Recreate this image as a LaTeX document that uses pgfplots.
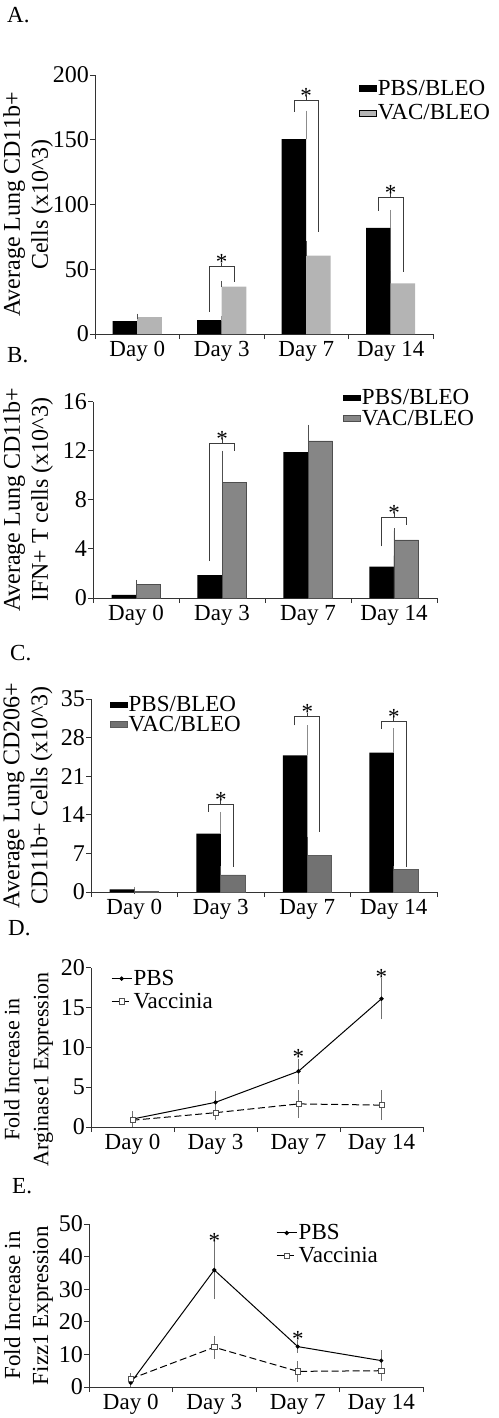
\documentclass[border=0pt]{standalone}
\usepackage{pgfplots}
\pgfplotsset{compat=1.18}
\usepackage{fontspec}
\setmainfont{Liberation Serif}
\definecolor{gA}{HTML}{B4B4B4}
\definecolor{gB}{HTML}{868686}
\definecolor{gBd}{HTML}{4E4E4E}
\definecolor{gC}{HTML}{727272}
\definecolor{errP}{HTML}{8C8C8C}
\definecolor{errV}{HTML}{505050}
\definecolor{brk}{HTML}{3C3C3C}
\newcommand{\fs}{\fontsize{23}{27}\selectfont}
\newcommand{\sig}[2]{\node[font=\fs, anchor=base, inner sep=0pt, yshift=-3pt] at (axis cs:#1,#2) {*};}
\newcommand{\sigc}[2]{\node[font=\fs, anchor=base, inner sep=0pt, yshift=-11.5pt] at (axis cs:#1,#2) {*};}
\newcommand{\ylab}[4]{\node[font=\fontsize{#4}{28}\selectfont, align=center, rotate=90, anchor=center] at ([xshift=#1]rel axis cs:0,0.5) {#2\\#3};}
\pgfplotsset{
  base/.style={
    scale only axis, anchor=south west, clip=false,
    axis lines=left,
    axis line style={-, line width=0.9pt, draw=black!80},
    tick style={line width=0.9pt, draw=black!80},
    tick align=outside, major tick length=5pt,
    ymin=0, xmin=-0.5, xmax=3.5,
    xtick={-0.5,0.5,1.5,2.5,3.5}, xticklabels={},
    extra x ticks={0,1,2,3},
    extra x tick labels={Day 0,Day 3,Day 7,Day 14},
    extra x tick style={major tick length=0pt},
    xticklabel style={yshift=-6pt},
    ticklabel style={font=\fs, inner sep=1pt},
    yticklabel style={font=\fontsize{24}{27}\selectfont},
    /pgf/number format/assume math mode=true,
    legend style={draw=none, fill=none, font=\fs, inner sep=0pt, legend cell align=left, nodes={inner xsep=1.5pt}},
  },
  barleg/.style={legend image code/.code={\fill[##1] (0pt,-2pt) rectangle (#1,{#1-2pt});}},
  lineleg/.style={legend image code/.code={\draw[mark repeat=2, mark phase=2, ##1] plot coordinates {(0pt,0pt) (10pt,0pt) (20pt,0pt)};}},
  bp/.style={ybar, bar width=24.5pt, bar shift=-12.25pt, fill=black, draw=none, area legend,
    error bars/y dir=plus, error bars/y explicit,
    error bars/error bar style={draw=errP, line width=0.8pt},
    error bars/error mark options={draw=errP, line width=0.8pt, mark size=2.5pt}},
  bv/.style={ybar, bar width=24.5pt, bar shift=12.25pt, area legend,
    error bars/y dir=plus, error bars/y explicit,
    error bars/error bar style={draw=errV, line width=0.8pt},
    error bars/error mark options={draw=errV, line width=0.8pt, mark size=2.5pt}},
  bk/.style={draw=brk, line width=0.9pt, forget plot, mark=none},
  lp/.style={black, line width=1pt, mark=*, mark size=1.6pt,
    error bars/y dir=both, error bars/y explicit,
    error bars/error bar style={draw=errP!80!black, line width=0.8pt},
    error bars/error mark options={draw=errP!80!black, line width=0.8pt, mark size=3pt}},
  lv/.style={black, line width=1pt, dash pattern=on 7pt off 3.5pt, mark=square*, mark size=2.6pt,
    mark options={solid, fill=white, draw=errV, line width=0.7pt},
    error bars/y dir=both, error bars/y explicit,
    error bars/error bar style={draw=errP!80!black, line width=0.8pt, solid},
    error bars/error mark options={draw=errP!80!black, line width=0.8pt, mark size=3pt, solid}},
}
\begin{document}
\begin{tikzpicture}
% ---------------- A ----------------
\node[font=\fs, anchor=base west, inner sep=0pt] at (7pt,-23pt) {A.};
\begin{axis}[base, at={(95pt,-334pt)}, width=338pt, height=259pt, ymax=200, ytick={0,50,100,150,200},
  barleg=13pt, legend style={at={(0.78,0.99)}, anchor=north west, row sep=4pt}]
\addplot[bp] table[x=x,y=y,y error=e]{
x y e
0 10 0.8
1 10.8 0.8
2 150.5 20
3 82 12
};
\addplot[bv, fill=gA, draw=none] table[x=x,y=y,y error=e]{
x y e
0 13 0.8
1 36.5 2.5
2 60.5 9.5
3 39 8
};
\legend{PBS/BLEO,VAC/BLEO}
\addplot[bk] coordinates {(0.855,17) (0.855,52) (1.145,52) (1.145,40.5)};
\addplot[bk] coordinates {(1,52) (1,55)};
\addplot[bk] coordinates {(1.855,171.5) (1.855,180.5) (2.145,180.5) (2.145,78.5)};
\addplot[bk] coordinates {(2,180.5) (2,183.5)};
\addplot[bk] coordinates {(2.855,95) (2.855,105.5) (3.145,105.5) (3.145,48)};
\addplot[bk] coordinates {(3,105.5) (3,108.5)};
\sig{1}{52}
\sig{2}{180.5}
\sig{3}{105.5}
\ylab{-67pt}{Average Lung CD11b+}{Cells (x10\textasciicircum 3)}{24}
\end{axis}
% ---------------- B ----------------
\node[font=\fs, anchor=base west, inner sep=0pt] at (7pt,-362pt) {B.};
\begin{axis}[base, at={(93pt,-598pt)}, width=344pt, height=196.3pt, ymax=16, ytick={0,4,8,12,16},
  barleg=11pt, legend style={at={(0.725,1.075)}, anchor=north west, row sep=0pt}]
\addplot[bp] table[x=x,y=y,y error=e]{
x y e
0 0.25 0.05
1 1.87 0.13
2 11.9 2.0
3 2.55 0.9
};
\addplot[bv, fill=gB, draw=gBd, line width=0.8pt] table[x=x,y=y,y error=e]{
x y e
0 1.14 0.14
1 9.4 2.4
2 12.8 1.1
3 4.73 0.76
};
\legend{PBS/BLEO,VAC/BLEO}
\addplot[bk] coordinates {(0.855,3.0) (0.855,12.6) (1.145,12.6) (1.145,12.0)};
\addplot[bk] coordinates {(1,12.6) (1,12.93)};
\addplot[bk] coordinates {(2.855,4.2) (2.855,6.6) (3.145,6.6) (3.145,5.95)};
\addplot[bk] coordinates {(3,6.6) (3,6.93)};
\sig{1}{12.6}
\sig{3}{6.6}
\ylab{-65pt}{Average Lung CD11b+}{IFN+ T cells (x10\textasciicircum 3)}{24}
\end{axis}
% ---------------- C ----------------
\node[font=\fs, anchor=base west, inner sep=0pt] at (10pt,-660pt) {C.};
\begin{axis}[base, at={(91pt,-892pt)}, width=346pt, height=193pt, ymax=35, ytick={0,7,14,21,28,35},
  barleg=10pt, legend style={at={(0.053,1.026)}, anchor=north west, row sep=-1pt}]
\addplot[bp] table[x=x,y=y,y error=e]{
x y e
0 0.48 0.05
1 10.6 3.5
2 24.8 5.0
3 25.3 3.9
};
\addplot[bv, fill=gC, draw=gC!80!black, line width=0.6pt] table[x=x,y=y,y error=e]{
x y e
0 0.15 0.03
1 3.1 1.2
2 6.6 2.95
3 4.1 0.2
};
\legend{PBS/BLEO,VAC/BLEO}
\addplot[bk] coordinates {(0.855,14.6) (0.855,15.9) (1.145,15.9) (1.145,4.6)};
\addplot[bk] coordinates {(1,15.9) (1,16.63)};
\addplot[bk] coordinates {(1.855,30.2) (1.855,31.8) (2.145,31.8) (2.145,10.9)};
\addplot[bk] coordinates {(2,31.8) (2,32.53)};
\addplot[bk] coordinates {(2.855,29.6) (2.855,31.0) (3.145,31.0) (3.145,4.6)};
\addplot[bk] coordinates {(3,31.0) (3,31.73)};
\sig{1}{15.9}
\sig{2}{31.8}
\sig{3}{31.0}
\ylab{-63pt}{Average Lung CD206+}{CD11b+ Cells (x10\textasciicircum 3)}{24}
\end{axis}
% ---------------- D ----------------
\node[font=\fs, anchor=base west, inner sep=0pt] at (8pt,-935pt) {D.};
\begin{axis}[base, at={(91pt,-1127pt)}, width=332pt, height=159.3pt, ymax=20, ytick={0,5,10,15,20},
  lineleg, legend style={at={(0.06,0.998)}, anchor=north west, row sep=2pt}]
\addplot[lp] table[x=x,y=y,y error=e]{
x y e
0 1.0 0.6
1 3.1 1.0
2 7.0 1.2
3 16.1 2.2
};
\addplot[lv] table[x=x,y=y,y error=e]{
x y e
0 0.85 0.5
1 1.8 0.5
2 2.9 1.4
3 2.75 1.5
};
\legend{PBS,Vaccinia}
\sigc{2}{9.3}
\sigc{3}{19.3}
\node[font=\fontsize{22}{29}\selectfont, align=center, rotate=90, anchor=center] at ([xshift=-62.5pt, yshift=-22pt]rel axis cs:0,0.5) {Fold Increase in\\Arginase1 Expression};
\end{axis}
% ---------------- E ----------------
\node[font=\fs, anchor=base west, inner sep=0pt] at (12pt,-1193pt) {E.};
\begin{axis}[base, at={(89pt,-1387pt)}, width=334pt, height=163pt, ymax=50, ytick={0,10,20,30,40,50},
  lineleg, legend style={at={(0.56,1.01)}, anchor=north west, row sep=2pt}]
\addplot[lp] table[x=x,y=y,y error=e]{
x y e
0 1.3 0.5
1 35.9 8
2 12.4 1.0
3 8.1 2.2
};
\addplot[lv] table[x=x,y=y,y error=e]{
x y e
0 2.5 0.8
1 12.2 2.6
2 4.8 2.2
3 5.0 2.1
};
\legend{PBS,Vaccinia}
\sigc{1}{46.1}
\sigc{2}{16}
\ylab{-60.5pt}{Fold Increase in}{Fizz1 Expression}{23}
\end{axis}
\pgfresetboundingbox
\useasboundingbox (0pt,0pt) rectangle (498pt,-1418pt);
\end{tikzpicture}
\end{document}
